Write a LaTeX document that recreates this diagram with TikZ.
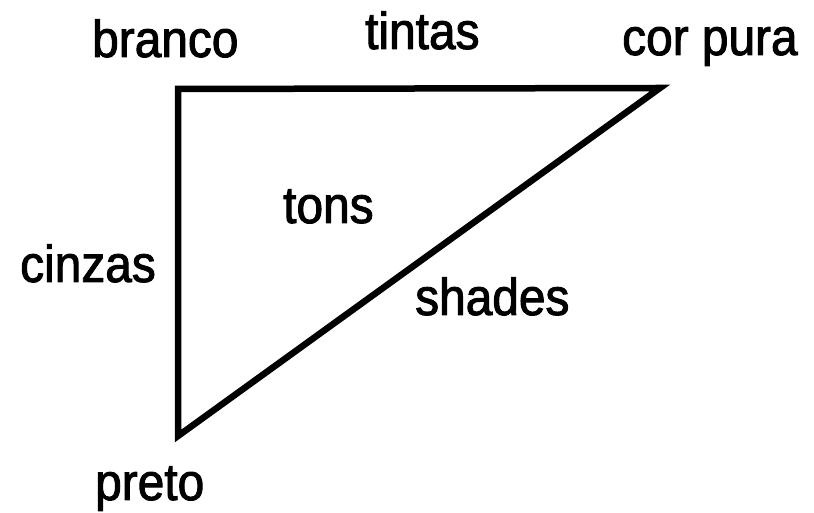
\documentclass[tikz,border=0pt]{standalone}
\usepackage{fontspec}
\newfontfamily\lblfont[FakeStretch=0.92,FakeBold=1.8]{Liberation Sans}
\begin{document}
\begin{tikzpicture}[x=1pt,y=1pt,
  lbl/.style={anchor=base west,inner sep=0pt,font=\lblfont\fontsize{52}{60}\selectfont},
  edge/.style={line width=6.5pt,line join=miter}]
\useasboundingbox (0,0) rectangle (814,513);
\coordinate (W) at (178,424);
\coordinate (C) at (660,425);
\coordinate (B) at (178,77);
\draw[edge] (W) -- (C) -- (B) -- cycle;
\node[lbl] (branco) at (92,456) {branco};
\node[lbl] (tintas) at (365,464) {tintas};
\node[lbl] (corpura) at (622,458) {cor pura};
\node[lbl] (tons) at (283,290) {tons};
\node[lbl] (cinzas) at (20,231) {cinzas};
\node[lbl] (shades) at (415,198) {shades};
\node[lbl] (preto) at (95,13) {preto};
\end{tikzpicture}
\end{document}
